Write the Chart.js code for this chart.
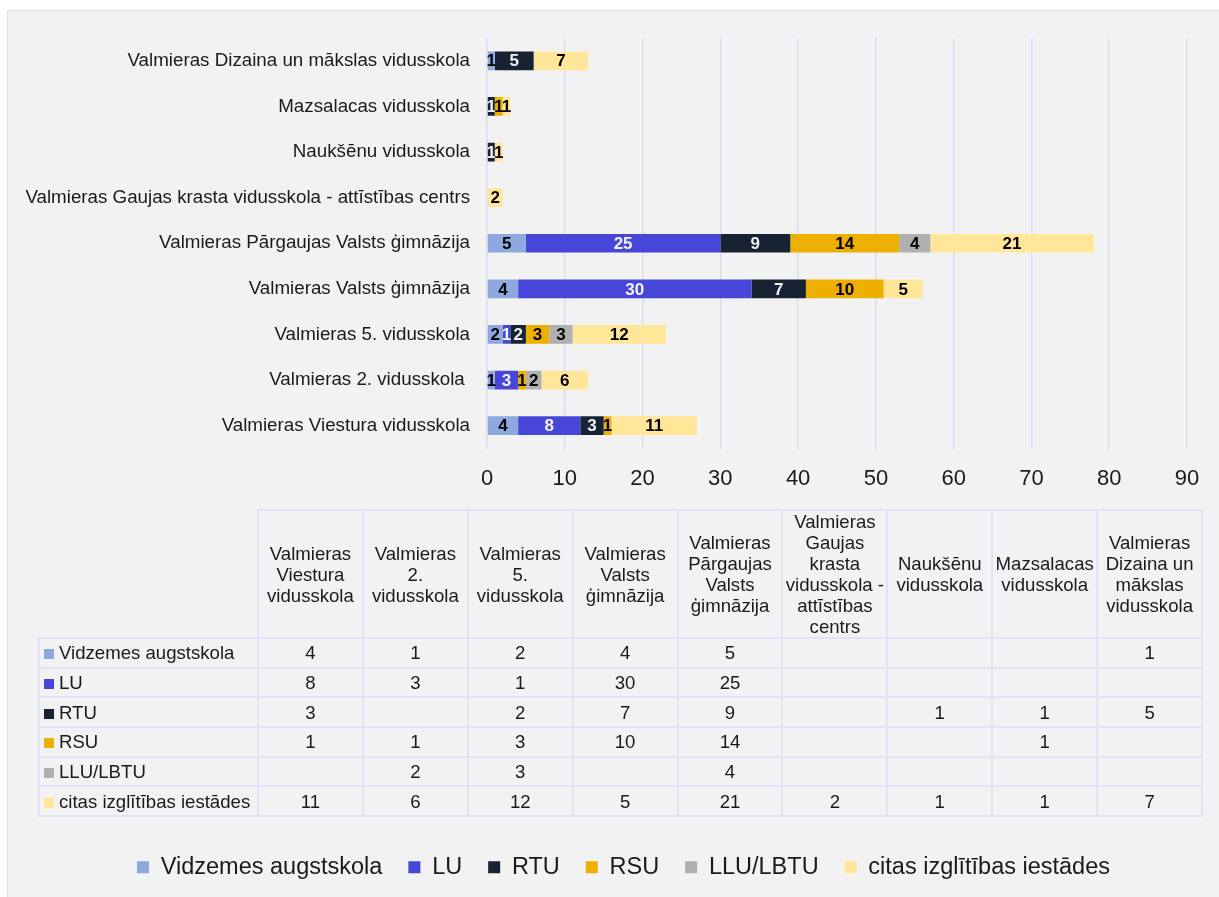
<!DOCTYPE html>
<html>
<head>
<meta charset="utf-8">
<script src="https://cdn.jsdelivr.net/npm/chart.js@4/dist/chart.umd.min.js"></script>
<style>
  html, body { margin: 0; padding: 0; background: #ffffff; }
  body { width: 1219px; height: 897px; position: relative; overflow: hidden; font-family: "Liberation Sans", Arial, sans-serif; }
  #frame { position: absolute; left: 7px; top: 10px; width: 1300px; height: 1000px; background: #F2F2F2; border-top: 1.5px solid #DDDDF5; border-left: 1.5px solid #DDDDF5; }
  #c { position: absolute; left: 0; top: 0; }
  #tbl { position: absolute; left: 38px; top: 509px; border-collapse: collapse; table-layout: fixed; font-size: 18.6px; color: #1a1a1a; }
  #tbl td, #tbl th { border: 2px solid #E2E2F6; padding: 0 1px; text-align: center; font-weight: normal; line-height: 21px; }
  #tbl th { height: 123px; vertical-align: middle; }
  #tbl th.blank { border: none; }
  #tbl td { height: 27.7px; }
  #tbl td.lab { text-align: left; padding-left: 4px; white-space: nowrap; }
  .sq { display: inline-block; width: 10px; height: 10px; margin-right: 5px; vertical-align: 0px; }
</style>
</head>
<body>
<div id="frame"></div>
<canvas id="c" width="1219" height="897"></canvas>
<table id="tbl"></table>
<script>
const categories = [
  "Valmieras Viestura vidusskola",
  "Valmieras 2. vidusskola ",
  "Valmieras 5. vidusskola",
  "Valmieras Valsts ģimnāzija",
  "Valmieras Pārgaujas Valsts ģimnāzija",
  "Valmieras Gaujas krasta vidusskola - attīstības centrs",
  "Naukšēnu vidusskola",
  "Mazsalacas vidusskola",
  "Valmieras Dizaina un mākslas vidusskola"
];
const seriesNames = ["Vidzemes augstskola", "LU", "RTU", "RSU", "LLU/LBTU", "citas izglītības iestādes"];
const vidzemes = [4, 1, 2, 4, 5, null, null, null, 1];
const lu       = [8, 3, 1, 30, 25, null, null, null, null];
const rtu      = [3, null, 2, 7, 9, null, 1, 1, 5];
const rsu      = [1, 1, 3, 10, 14, null, null, 1, null];
const llu      = [null, 2, 3, null, 4, null, null, null, null];
const citas    = [11, 6, 12, 5, 21, 2, 1, 1, 7];
const xTicks   = [0, 10, 20, 30, 40, 50, 60, 70, 80, 90];

const colors = ["#8EA9E0", "#4646D8", "#172233", "#EEB000", "#B0B0B0", "#FFE699"];
const labelColors = ["#000000", "#F2F2F2", "#F2F2F2", "#000000", "#000000", "#000000"];
const seriesValues = [vidzemes, lu, rtu, rsu, llu, citas];
const FONT = "'Liberation Sans', Arial, sans-serif";

const valueLabels = {
  id: "valueLabels",
  afterLayout(chart) {
    // centre the legend on the framed area rather than the whole canvas
    if (chart.legend) { chart.legend.left += 60; chart.legend.width -= 60; }
  },
  afterDatasetsDraw(chart) {
    const ctx = chart.ctx;
    ctx.save();
    ctx.font = "bold 17px " + FONT;
    ctx.textAlign = "center";
    ctx.textBaseline = "middle";
    chart.data.datasets.forEach((ds, di) => {
      const meta = chart.getDatasetMeta(di);
      meta.data.forEach((el, i) => {
        const v = ds.data[i];
        if (v === null || v === undefined) return;
        const x = (el.x + el.base) / 2;
        ctx.fillStyle = labelColors[di];
        ctx.fillText(String(v), x, el.y + 1);
      });
    });
    ctx.restore();
  }
};

new Chart(document.getElementById("c"), {
  type: "bar",
  data: {
    labels: categories,
    datasets: seriesNames.map((n, i) => ({
      label: n,
      data: seriesValues[i],
      backgroundColor: colors[i],
      borderWidth: 0,
      barPercentage: 0.41,
      categoryPercentage: 1
    }))
  },
  options: {
    indexAxis: "y",
    responsive: false,
    animation: false,
    layout: { padding: { top: 38, left: 0, right: 32, bottom: 8 } },
    scales: {
      x: {
        stacked: true,
        min: 0, max: 90,
        afterBuildTicks(scale) { scale.ticks = xTicks.map(v => ({ value: v })); },
        ticks: { font: { size: 22, family: FONT }, color: "#1a1a1a", padding: 17, maxRotation: 0 },
        grid: { color: "#DCDCF4", lineWidth: 1.5, drawTicks: false },
        border: { display: false },
        afterFit(scale) { scale.height = 381; }
      },
      y: {
        stacked: true,
        reverse: true,
        ticks: { font: { size: 18.75, family: FONT }, color: "#1a1a1a", padding: 17, autoSkip: false },
        grid: { display: false, drawTicks: false },
        border: { display: false },
        afterFit(scale) { scale.width = 487; }
      }
    },
    plugins: {
      legend: {
        position: "bottom",
        labels: {
          font: { size: 23.5, family: FONT },
          color: "#1a1a1a",
          boxWidth: 12, boxHeight: 12,
          padding: 26
        }
      },
      tooltip: { enabled: false }
    }
  },
  plugins: [valueLabels]
});

// data table
const tbl = document.getElementById("tbl");
let html = "<colgroup><col style='width:219px'>" + categories.map(() => "<col style='width:104.9px'>").join("") + "</colgroup>";
html += "<tr><th class='blank'></th>" + categories.map(c => "<th>" + c.trim() + "</th>").join("") + "</tr>";
seriesNames.forEach((n, i) => {
  html += "<tr><td class='lab'><span class='sq' style='background:" + colors[i] + "'></span>" + n + "</td>" +
    seriesValues[i].map(v => "<td>" + (v === null ? "" : v) + "</td>").join("") + "</tr>";
});
tbl.innerHTML = html;
</script>
</body>
</html>
